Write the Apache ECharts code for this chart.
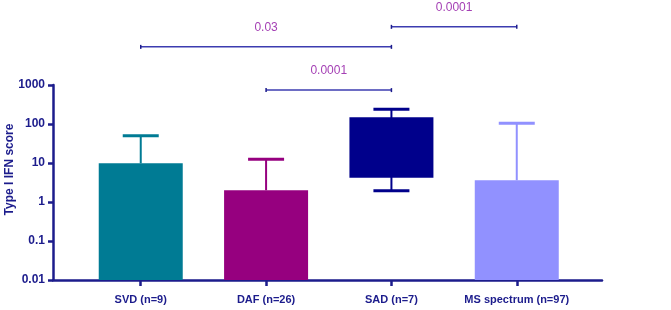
<!DOCTYPE html>
<html>
<head>
<meta charset="utf-8">
<style>
  html, body { margin: 0; padding: 0; background: #fff; }
  #chart { width: 671px; height: 310px; }
</style>
<script src="https://cdn.jsdelivr.net/npm/echarts@6/dist/echarts.min.js"></script>
</head>
<body>
<div id="chart"></div>
<script>
// groups on the x axis
var categories = ['SVD (n=9)', 'DAF (n=26)', 'SAD (n=7)', 'MS spectrum (n=97)'];
// bar / box: bottom and top value (log scale)
var barBottom = [0.01, 0.01, 4.2, 0.01];
var barTop = [9.8, 2.0, 150, 3.6];
// whiskers: low and high ends
var whiskerLow = [9.8, 2.0, 1.95, 3.6];
var whiskerHigh = [50, 12.5, 240, 105];
// y axis tick values
var yTicks = [0.01, 0.1, 1, 10, 100, 1000];
// significance brackets: from group, to group, height, p value
var bracketFrom = [0, 1, 2];
var bracketTo = [2, 2, 3];
var bracketLevel = [9500, 740, 31000];
var bracketText = ['0.03', '0.0001', '0.0001'];

var colors = ['#007b94', '#96007f', '#00008b', '#9191ff'];
var navy = '#1c1c8c';
var font = '"Liberation Sans", Arial, sans-serif';

var chart = echarts.init(document.getElementById('chart'));

var barData = categories.map(function (c, i) { return [i, barBottom[i], barTop[i]]; });
var whiskerData = categories.map(function (c, i) { return [i, whiskerLow[i], whiskerHigh[i]]; });
var bracketData = bracketFrom.map(function (f, i) { return [f, bracketTo[i], bracketLevel[i], i]; });

function renderBar(params, api) {
    var i = api.value(0);
    var lo = api.coord([i, api.value(1)]);
    var hi = api.coord([i, api.value(2)]);
    var w = 84;
    return {
        type: 'rect',
        shape: { x: lo[0] - w / 2, y: hi[1], width: w, height: lo[1] - hi[1] },
        style: { fill: colors[params.dataIndex] }
    };
}

function renderWhisker(params, api) {
    var i = api.value(0);
    var lo = api.coord([i, api.value(1)]);
    var hi = api.coord([i, api.value(2)]);
    var c = colors[params.dataIndex];
    var half = 18;
    var children = [
        { type: 'line', shape: { x1: lo[0], y1: lo[1], x2: hi[0], y2: hi[1] }, style: { stroke: c, lineWidth: 2 } },
        { type: 'line', shape: { x1: hi[0] - half, y1: hi[1], x2: hi[0] + half, y2: hi[1] }, style: { stroke: c, lineWidth: 3 } }
    ];
    if (api.value(1) < barTop[params.dataIndex]) {
        children.push({ type: 'line', shape: { x1: lo[0] - half, y1: lo[1], x2: lo[0] + half, y2: lo[1] }, style: { stroke: c, lineWidth: 3 } });
    }
    return { type: 'group', children: children };
}

function renderBracket(params, api) {
    var a = api.coord([api.value(0), api.value(2)]);
    var b = api.coord([api.value(1), api.value(2)]);
    var t = 2;
    return {
        type: 'group',
        children: [
            { type: 'line', shape: { x1: a[0], y1: a[1], x2: b[0], y2: b[1] }, style: { stroke: '#3c3cb0', lineWidth: 1.5 } },
            { type: 'line', shape: { x1: a[0], y1: a[1] - t, x2: a[0], y2: a[1] + t }, style: { stroke: navy, lineWidth: 1.5 } },
            { type: 'line', shape: { x1: b[0], y1: b[1] - t, x2: b[0], y2: b[1] + t }, style: { stroke: navy, lineWidth: 1.5 } },
            {
                type: 'text',
                style: {
                    text: bracketText[api.value(3)],
                    x: (a[0] + b[0]) / 2, y: a[1] - 19,
                    align: 'center', verticalAlign: 'middle',
                    fill: '#a43fb4', font: '12px "Liberation Sans", Arial, sans-serif'
                }
            }
        ]
    };
}

var option = {
    animation: false,
    backgroundColor: '#fff',
    grid: { left: 53, right: 69, top: 85, bottom: 30, containLabel: false, outerBoundsMode: 'none' },
    xAxis: {
        type: 'value',
        min: -0.7,
        max: 3.68,
        splitLine: { show: false },
        axisLine: { show: true, onZero: false, lineStyle: { color: navy, width: 2.5 } },
        axisTick: { show: true, customValues: [0, 1, 2, 3], length: 6, lineStyle: { color: navy, width: 2.5 } },
        axisLabel: {
            customValues: [0, 1, 2, 3],
            margin: 14,
            color: navy,
            fontFamily: font,
            fontWeight: 'bold',
            fontSize: 11,
            formatter: function (v) { return categories[Math.round(v)]; }
        }
    },
    yAxis: {
        type: 'log',
        logBase: 10,
        min: 0.01,
        max: 1000,
        name: 'Type I IFN score',
        nameLocation: 'middle',
        nameGap: 37,
        nameMoveOverlap: false,
        nameTextStyle: { color: navy, fontFamily: font, fontWeight: 'bold', fontSize: 12, padding: [0, 0, 0, 26] },
        splitLine: { show: false },
        axisLine: { show: true, onZero: false, lineStyle: { color: navy, width: 2.5 } },
        axisTick: { show: true, customValues: yTicks, length: 5, lineStyle: { color: navy, width: 2.5 } },
        axisLabel: {
            customValues: yTicks,
            margin: 8,
            color: navy,
            fontFamily: font,
            fontWeight: 'bold',
            fontSize: 12,
            formatter: function (v) { return String(v); }
        }
    },
    series: [
        { type: 'custom', renderItem: renderWhisker, data: whiskerData, z: 2 },
        { type: 'custom', renderItem: renderBar, data: barData, z: 3 },
        { type: 'custom', renderItem: renderBracket, data: bracketData, clip: false, z: 4 }
    ]
};

chart.setOption(option);
window.addEventListener('resize', function () { chart.resize(); });
</script>
</body>
</html>
